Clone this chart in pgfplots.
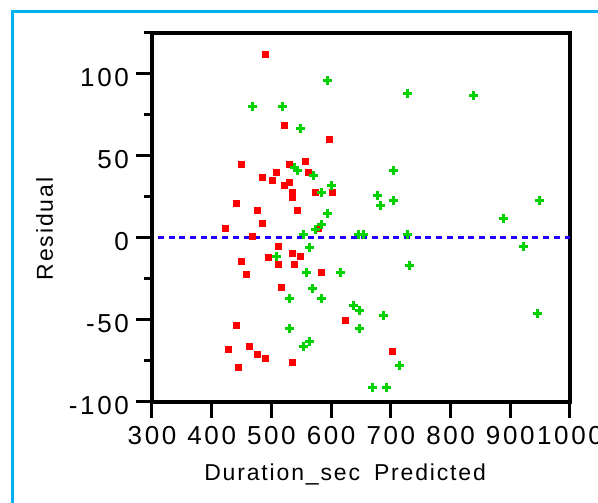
\documentclass[border=0pt]{standalone}
\usepackage{fontspec}
\setmainfont{Liberation Sans}
\newfontfamily\tickfont[LetterSpace=10]{Liberation Sans}
\newfontfamily\labelfont[LetterSpace=8]{Liberation Sans}
\usepackage{pgfplots}
\usepackage{pgfplotstable}
\pgfplotsset{compat=1.18}
\definecolor{framecyan}{RGB}{0,176,240}
\definecolor{ptred}{RGB}{255,0,0}
\definecolor{ptgreen}{RGB}{0,210,0}
\definecolor{zeroblue}{RGB}{34,0,255}

% residuals, first group (red squares)
\pgfplotstableread{
x y
489 112
521 69
596 60
449 45
529 45
556 47
484 37
508 40
502 35
521 32
529 34
561 40
534 28
534 25
574 28
601 28
441 21
476 17
543 17
484 9
422 6
467 1
578 6
511 -5
449 -14
494 -12
534 -9
548 -11
511 -16
538 -16
457 -22
583 -21
516 -30
623 -50
441 -53
427 -68
462 -66
476 -71
489 -73
444 -79
534 -76
703 -69
}\redpts

% residuals, second group (green plus)
\pgfplotstableread{
x y
594 96
469 80
518 80
548 67
539 43
544 41
571 38
601 32
584 28
594 15
584 8
574 5
553 2
646 2
655 2
563 -6
509 -11
558 -21
616 -21
568 -31
531 -37
584 -37
638 -41
648 -44
648 -55
531 -55
553 -66
563 -63
728 88
839 87
705 41
678 26
683 20
705 23
949 23
889 12
728 2
922 -5
732 -17
687 -47
715 -78
670 -91
692 -91
946 -46
}\greenpts

\begin{document}
\begin{tikzpicture}
\useasboundingbox (0,0) rectangle (598pt,503pt);
\draw[framecyan, line width=3pt, line join=miter] (12pt,-5pt) -- (12pt,491.5pt) -- (605pt,491.5pt);
\begin{axis}[
  at={(152pt,101pt)}, anchor=south west,
  scale only axis, width=418pt, height=369pt,
  xmin=300, xmax=1000, ymin=-100, ymax=125,
  xtick={300,400,...,1000},
  ytick={-100,-50,...,100},
  minor ytick={-75,-25,25,75,125},
  xtick pos=left, ytick pos=left,
  tick align=outside,
  major tick length=16pt, minor tick length=8pt,
  every tick/.style={black, line width=3pt},
  axis line style={line width=3.2pt},
  /pgf/number format/assume math mode=true,
  /pgf/number format/1000 sep={},
  tick label style={font=\tickfont\fontsize{26}{26}\selectfont},
  xticklabel style={inner sep=0pt, anchor=north, yshift=-8pt},
  yticklabel style={inner sep=0pt, anchor=east, xshift=-7pt, yshift=-4pt},
  every axis x label/.style={at={([yshift=-79pt]axis description cs:0.462,0)}, anchor=base},
  every axis y label/.style={at={([xshift=-99pt]axis description cs:0,0.469)}, rotate=90, anchor=base},
  label style={font=\labelfont\fontsize{23}{23}\selectfont},
  xlabel={Duration\_sec\hspace{14pt}Predicted},
  ylabel={Residual},
  clip=false,
]
\addplot[only marks, mark=square*, mark size=3pt, color=ptred] table[x=x, y=y] {\redpts};
\addplot[only marks, mark=+, mark size=4.5pt, color=ptgreen, mark options={line width=3pt}] table[x=x, y=y] {\greenpts};
\addplot[zeroblue, line width=3pt, dash pattern=on 6pt off 4.7pt] coordinates {(310,0) (1000,0)};
\end{axis}
\end{tikzpicture}
\end{document}
